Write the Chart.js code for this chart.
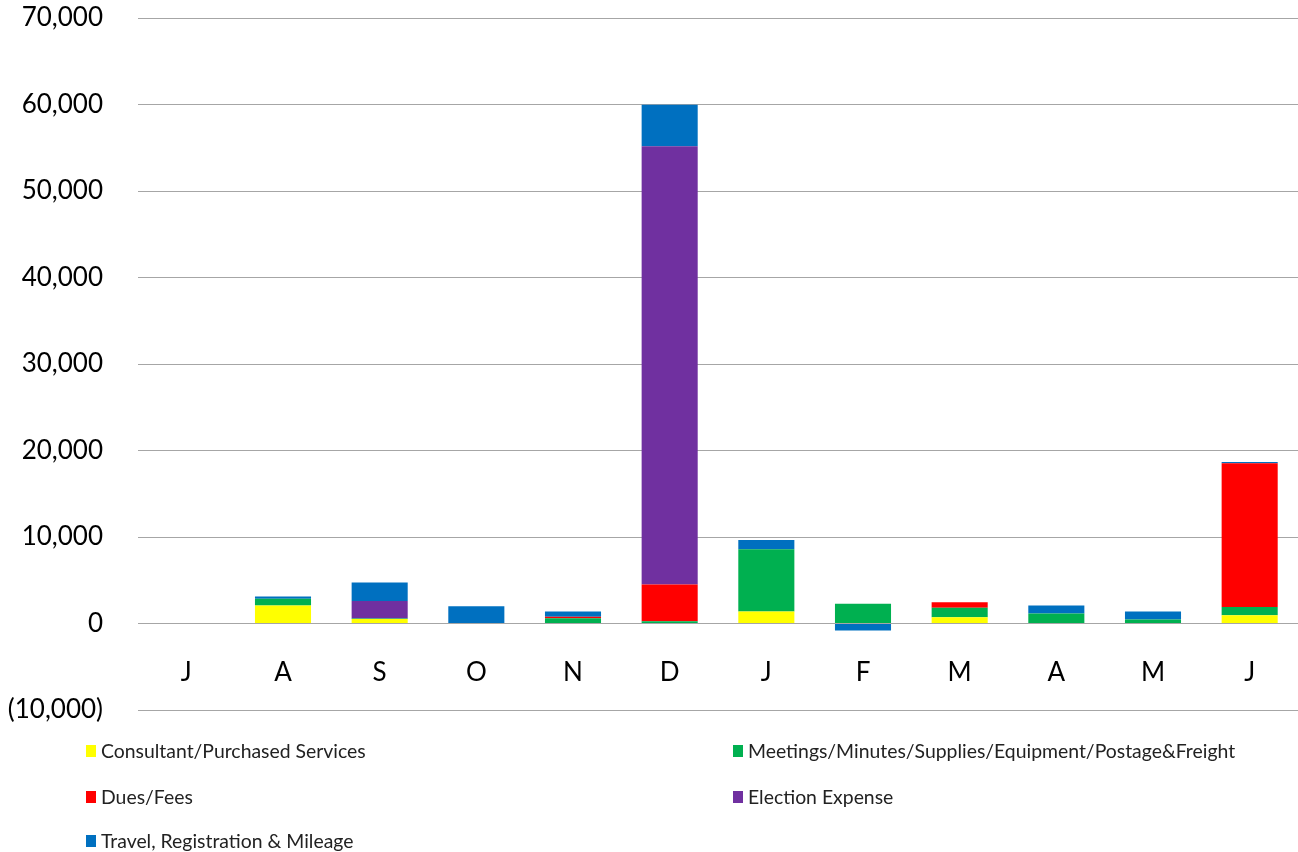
<!DOCTYPE html>
<html>
<head>
<meta charset="utf-8">
<script src="https://cdn.jsdelivr.net/npm/chart.js@4/dist/chart.umd.min.js"></script>
<style>
  body { margin: 0; background: #fff; }
  #wrap { position: relative; width: 1298px; height: 852px; }
  #legend { position: absolute; left: 0; top: 0; width: 1298px; height: 852px; pointer-events: none;
            font-family: Lato, "Liberation Sans", sans-serif; font-size: 19.4px; color: #222; }
  .item { position: absolute; display: flex; align-items: center; white-space: nowrap; }
  .box { width: 10px; height: 12px; margin-right: 5px; }
</style>
</head>
<body>
<div id="wrap">
  <canvas id="myBarChart" width="1298" height="852"></canvas>
  <div id="legend"></div>
</div>
<script>
var months = ["J", "A", "S", "O", "N", "D", "J", "F", "M", "A", "M", "J"];

var consultant = [0, 2085, 530, 0, 0, 0, 1390, 50, 730, 0, 0, 960];
var meetings   = [0, 765, 50, 0, 620, 250, 7180, 2220, 1080, 1160, 460, 960];
var dues       = [0, 0, 0, 0, 150, 4260, 0, 0, 660, 0, 0, 16610];
var election   = [0, 0, 2020, 0, 0, 50660, 0, 0, 0, 0, 0, 0];
var travel     = [0, 280, 2150, 2000, 620, 4810, 1080, -810, 0, 925, 930, 150];

var names = ["Consultant/Purchased Services",
             "Meetings/Minutes/Supplies/Equipment/Postage&Freight",
             "Dues/Fees",
             "Election Expense",
             "Travel, Registration & Mileage"];
var colors = ['#FFFF00', '#00B050', '#FF0000', '#7030A0', '#0070C0'];
var series = [consultant, meetings, dues, election, travel];

var datas = {
    labels: months,
    datasets: series.map(function(vals, i) {
        return {
            label: names[i],
            data: vals,
            backgroundColor: colors[i],
            borderWidth: 0,
            categoryPercentage: 1,
            barPercentage: 0.58
        };
    })
};

function fmt(v) {
    var s = Math.abs(v).toLocaleString('en-US');
    return v < 0 ? '(' + s + ')' : s;
}

var tickFont = { family: 'Lato', size: 26 };

var ctx = document.getElementById("myBarChart").getContext('2d');
var myBarChart = new Chart(ctx, {
    type: 'bar',
    data: datas,
    options: {
        responsive: false,
        animation: false,
        layout: { padding: { top: 18, right: 0, bottom: 142, left: 0 } },
        plugins: { legend: { display: false }, tooltip: { enabled: false } },
        scales: {
            x: {
                stacked: true,
                position: { y: 0 },
                grid: { display: false },
                border: { display: false },
                ticks: { color: '#000', font: tickFont, padding: 26 }
            },
            y: {
                stacked: true,
                min: -10000,
                max: 70000,
                afterFit: function(s) {
                    s.width = 138;
                    s.paddingTop = 0;
                    s.paddingBottom = 0;
                },
                grid: { color: '#A6A6A6', lineWidth: 1, drawTicks: false },
                border: { display: false },
                ticks: { stepSize: 10000, color: '#000', font: tickFont, padding: 35,
                         callback: function(v) { return fmt(v); } }
            }
        }
    }
});

// legend in two columns under the plot
var legend = document.getElementById('legend');
var spots = [[86, 751], [733, 751], [86, 797], [733, 797], [86, 841]];
names.forEach(function(n, i) {
    var d = document.createElement('div');
    d.className = 'item';
    d.style.left = spots[i][0] + 'px';
    d.style.top = (spots[i][1] - 12) + 'px';
    d.innerHTML = '<span class="box" style="background:' + colors[i] + '"></span><span></span>';
    d.lastChild.textContent = n;
    legend.appendChild(d);
});
</script>
</body>
</html>
